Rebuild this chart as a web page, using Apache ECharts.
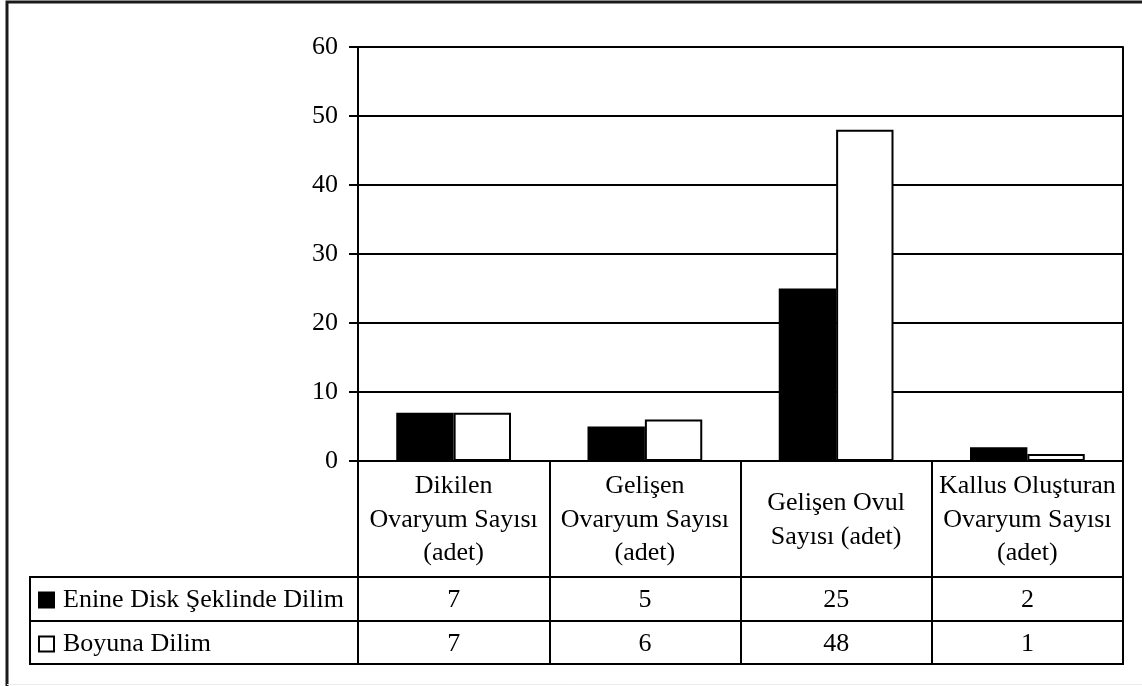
<!DOCTYPE html>
<html>
<head>
<meta charset="utf-8">
<title>Ovaryum ve Ovul Sayıları</title>
<script src="https://cdn.jsdelivr.net/npm/echarts@6/dist/echarts.min.js"></script>
<style>
  html, body { margin: 0; padding: 0; background: #fff; }
  #chart { width: 1142px; height: 686px; }
</style>
</head>
<body>
<div id="chart"></div>
<script>
// Categories (column headers of the data table)
const categories = [
  'Dikilen\nOvaryum Sayısı\n(adet)',
  'Gelişen\nOvaryum Sayısı\n(adet)',
  'Gelişen Ovul\nSayısı (adet)',
  'Kallus Oluşturan\nOvaryum Sayısı\n(adet)'
];
// Series names
const seriesNames = ['Enine Disk Şeklinde Dilim', 'Boyuna Dilim'];
// Series values
const enineValues = [7, 5, 25, 2];
const boyunaValues = [7, 6, 48, 1];
// Value axis ticks
const yTicks = [0, 10, 20, 30, 40, 50, 60];

const FONT = 'Liberation Serif, Times New Roman, serif';
const FS = 26;

// Plot frame
const W = 1142, H = 686;
const plotLeft = 358, plotRight = 1123, plotTop = 47, plotBottom = 461;
// Data table rows below the plot
const headerBottom = 577, row1Bottom = 621, row2Bottom = 664;
const tableLeft = 30;

const chart = echarts.init(document.getElementById('chart'), null, { renderer: 'canvas' });

const black = '#000';

chart.setOption({
  backgroundColor: '#fff',
  animation: false,
  grid: {
    left: plotLeft,
    right: W - plotRight,
    top: plotTop,
    bottom: H - plotBottom,
    containLabel: false,
    outerBoundsMode: 'none'
  },
  legend: {
    orient: 'vertical',
    left: 38,
    top: (headerBottom + row1Bottom) / 2 - 12,
    padding: 0,
    itemWidth: 15,
    itemHeight: 15,
    itemGap: (row1Bottom - headerBottom) - 26,
    icon: 'rect',
    selectedMode: false,
    textStyle: {
      fontFamily: FONT,
      fontSize: FS,
      lineHeight: 26,
      color: black,
      padding: [0, 0, 0, 4]
    },
    data: seriesNames
  },
  xAxis: [
    {
      type: 'category',
      data: categories,
      position: 'bottom',
      axisLine: { show: true, lineStyle: { color: black, width: 2 } },
      axisTick: {
        show: true,
        interval: 0,
        alignWithLabel: false,
        length: row2Bottom - plotBottom,
        lineStyle: { color: black, width: 2 }
      },
      axisLabel: {
        interval: 0,
        margin: (headerBottom - plotBottom) / 2 + 1,
        verticalAlign: 'middle',
        lineHeight: 33.5,
        fontFamily: FONT,
        fontSize: FS,
        color: black
      },
      splitLine: { show: false }
    },
    {
      type: 'category',
      data: enineValues.map(String),
      position: 'bottom',
      axisLine: { show: false },
      axisTick: { show: false },
      axisLabel: {
        interval: 0,
        margin: (headerBottom + row1Bottom) / 2 - plotBottom + 1.5,
        verticalAlign: 'middle',
        fontFamily: FONT,
        fontSize: FS,
        color: black
      },
      splitLine: { show: false }
    },
    {
      type: 'category',
      data: boyunaValues.map(String),
      position: 'bottom',
      axisLine: { show: false },
      axisTick: { show: false },
      axisLabel: {
        interval: 0,
        margin: (row1Bottom + row2Bottom) / 2 - plotBottom + 1.5,
        verticalAlign: 'middle',
        fontFamily: FONT,
        fontSize: FS,
        color: black
      },
      splitLine: { show: false }
    }
  ],
  yAxis: [
    {
      type: 'value',
      min: yTicks[0],
      max: yTicks[yTicks.length - 1],
      interval: yTicks[1] - yTicks[0],
      axisLine: { show: true, lineStyle: { color: black, width: 2 } },
      axisTick: { show: true, inside: false, length: 9, lineStyle: { color: black, width: 2 } },
      axisLabel: {
        margin: 20,
        fontFamily: FONT,
        fontSize: FS,
        color: black,
        formatter: v => (yTicks.indexOf(v) >= 0 ? String(v) : '')
      },
      splitLine: { show: true, lineStyle: { color: black, width: 2 } }
    },
    {
      type: 'value',
      position: 'right',
      min: yTicks[0],
      max: yTicks[yTicks.length - 1],
      interval: yTicks[1] - yTicks[0],
      axisLine: { show: true, lineStyle: { color: black, width: 2 } },
      axisTick: { show: false },
      axisLabel: { show: false },
      splitLine: { show: false }
    }
  ],
  series: [
    {
      name: seriesNames[0],
      type: 'bar',
      xAxisIndex: 0,
      yAxisIndex: 0,
      data: enineValues,
      barGap: '0%',
      barCategoryGap: '40%',
      itemStyle: { color: black, borderColor: black, borderWidth: 2 }
    },
    {
      name: seriesNames[1],
      type: 'bar',
      xAxisIndex: 0,
      yAxisIndex: 0,
      data: boyunaValues,
      barGap: '0%',
      barCategoryGap: '40%',
      itemStyle: { color: '#fff', borderColor: black, borderWidth: 2 }
    }
  ],
  graphic: [
    // outer frame (left and top edges)
    {
      type: 'polyline',
      silent: true,
      shape: { points: [[7, H], [7, 2], [W, 2]] },
      style: { stroke: '#1a1a1a', lineWidth: 3, fill: null }
    },
    {
      type: 'line',
      silent: true,
      shape: { x1: 7, y1: H - 1.5, x2: W, y2: H - 1.5 },
      style: { stroke: '#ececec', lineWidth: 1 }
    },
    // data table rules
    {
      type: 'line', silent: true,
      shape: { x1: tableLeft, y1: headerBottom, x2: plotRight + 1, y2: headerBottom },
      style: { stroke: black, lineWidth: 2 }
    },
    {
      type: 'line', silent: true,
      shape: { x1: tableLeft, y1: row1Bottom, x2: plotRight + 1, y2: row1Bottom },
      style: { stroke: black, lineWidth: 2 }
    },
    {
      type: 'line', silent: true,
      shape: { x1: tableLeft - 1, y1: row2Bottom, x2: plotRight + 1, y2: row2Bottom },
      style: { stroke: black, lineWidth: 2 }
    },
    {
      type: 'line', silent: true,
      shape: { x1: tableLeft, y1: headerBottom - 1, x2: tableLeft, y2: row2Bottom + 1 },
      style: { stroke: black, lineWidth: 2 }
    }
  ]
});
</script>
</body>
</html>
